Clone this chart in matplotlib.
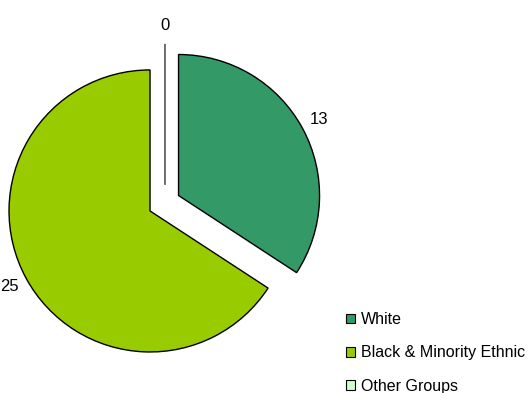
import matplotlib
matplotlib.use('Agg')
import matplotlib.pyplot as plt
from matplotlib.patches import Patch

plt.rcParams['font.family'] = ['Liberation Sans', 'DejaVu Sans']

groups = ["White", "Black & Minority Ethnic", "Other Groups"]
counts = [13, 25, 0]
colors = ["#339966", "#99CC00", "#CCFFCC"]
explode = [0.23, 0.0, 0.23]

fig = plt.figure(figsize=(5.32, 3.93), dpi=100)
ax = fig.add_axes([0, 0, 1, 1])

wedges, texts = ax.pie(counts, colors=colors, explode=explode, labels=[str(c) for c in counts],
                       startangle=90, counterclock=False, labeldistance=1.13,
                       radius=1.0, center=(0, 0), frame=True,
                       wedgeprops=dict(edgecolor='black', linewidth=1.0),
                       textprops=dict(fontsize=12, color='black'))
ax.set_xlim(-1.064, 2.709)
ax.set_ylim(-1.291, 1.496)
ax.set_aspect('auto')
ax.axis('off')

# the empty slice sits in the middle of the gap between the two others
shift = (0.106, -0.045)
cx, cy = wedges[2].center
wedges[2].set_center((cx + shift[0], cy + shift[1]))
wedges[2].set_edgecolor('#333333')
tx, ty = texts[2].get_position()
texts[2].set_position((tx + shift[0], ty + shift[1]))
for t in texts:
    t.set_ha('center')
    t.set_va('center')

handles = [Patch(facecolor=c, edgecolor='black', linewidth=0.8) for c in colors]
fig.legend(handles, groups, loc='upper left', bbox_to_anchor=(346 / 532, 1 - 312 / 393),
           frameon=False, fontsize=11.5, handlelength=0.55, handleheight=0.55,
           handletextpad=0.4, labelspacing=1.15, borderpad=0, borderaxespad=0)

fig.savefig('out.png', dpi=100)
